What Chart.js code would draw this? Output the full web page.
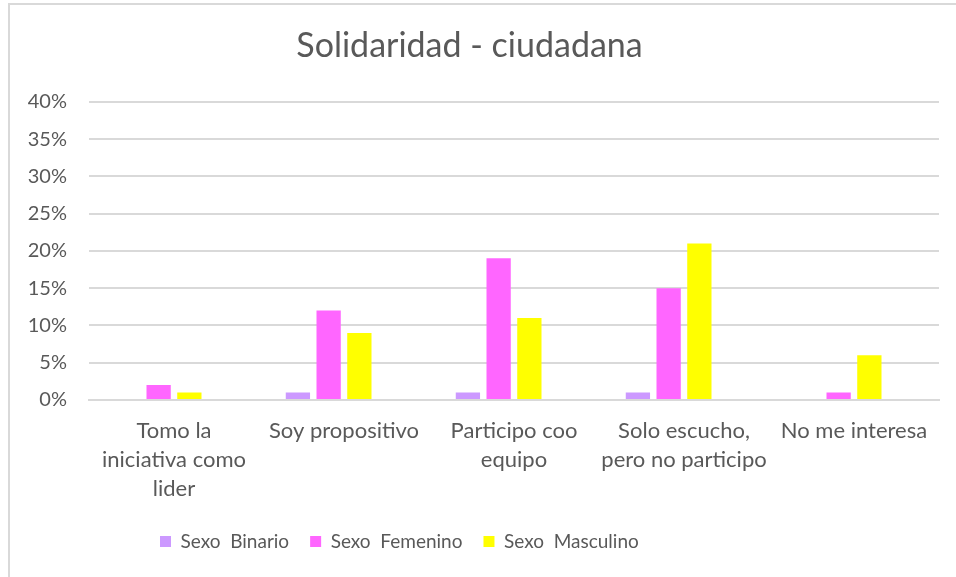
<!DOCTYPE html>
<html>
<head>
<meta charset="utf-8">
<script src="https://cdn.jsdelivr.net/npm/chart.js@4.4.0/dist/chart.umd.min.js"></script>
<style>
  html, body { margin: 0; padding: 0; background: #fff; }
  #frame { position: absolute; left: 8px; top: 3px; width: 1000px; height: 1000px; border: 2px solid #d9d9d9; }
  #wrap { position: absolute; left: 0; top: 0; width: 956px; height: 577px; }
</style>
</head>
<body>
<div id="frame"></div>
<div id="wrap"><canvas id="myChart"></canvas></div>
<script>
// categories and series (percent)
const categories = [
	["Tomo la", "iniciativa como", "lider"],
	["Soy propositivo"],
	["Participo coo", "equipo"],
	["Solo escucho,", "pero no participo"],
	["No me interesa"],
];
const binario = [0, 1, 1, 1, 0];
const femenino = [2, 12, 19, 15, 1];
const masculino = [1, 9, 11, 21, 6];
const yTicks = [0, 5, 10, 15, 20, 25, 30, 35, 40];

const textColor = "#595959";
const gridColor = "#d9d9d9";
const fontFamily = "Lato, 'Open Sans', sans-serif";

// Excel leaves the legend left of centre
const legendShift = {
	id: "legendShift",
	afterLayout(chart) {
		chart.legend.left = 139;
	},
};

const ctx = document.getElementById("myChart");
const myChart = new Chart(ctx, {
	type: "bar",
	data: {
		labels: categories,
		datasets: [
			{ label: "Sexo  Binario", data: binario, backgroundColor: "#cc99ff" },
			{ label: "Sexo  Femenino", data: femenino, backgroundColor: "#ff66ff" },
			{ label: "Sexo  Masculino", data: masculino, backgroundColor: "#ffff00" },
			// empty slot, keeps the groups left of the label like the original
			{ label: "", data: [null, null, null, null, null], backgroundColor: "#ffffff" },
		],
	},
	plugins: [legendShift],
	options: {
		responsive: true,
		maintainAspectRatio: false,
		animation: false,
		categoryPercentage: 0.723,
		barPercentage: 0.79,
		layout: {
			padding: { left: 0, right: 17, top: 0, bottom: 16 },
		},
		plugins: {
			title: {
				display: true,
				text: "Solidaridad - ciudadana",
				color: textColor,
				font: { family: fontFamily, size: 34, weight: "normal" },
				padding: { top: 26, bottom: 35 },
			},
			legend: {
				position: "bottom",
				align: "start",
				labels: {
					color: textColor,
					font: { family: fontFamily, size: 19 },
					boxWidth: 11,
					boxHeight: 11,
					padding: 21,
					filter: (item) => item.text !== "",
				},
			},
			tooltip: { enabled: false },
		},
		scales: {
			x: {
				afterFit(scale) {
					scale.height = 111;
				},
				grid: { display: false },
				border: { display: true, color: gridColor, width: 2 },
				ticks: {
					color: textColor,
					font: { family: fontFamily, size: 22, lineHeight: 1.3 },
					padding: 9,
					maxRotation: 0,
				},
			},
			y: {
				min: 0,
				max: 40,
				afterFit(scale) {
					scale.width = 89;
				},
				afterBuildTicks(scale) {
					scale.ticks = yTicks.map((v) => ({ value: v }));
				},
				grid: { color: gridColor, lineWidth: 2, drawTicks: false },
				border: { display: false },
				ticks: {
					color: textColor,
					font: { family: fontFamily, size: 20 },
					padding: 22,
					callback: (v) => v + "%",
				},
			},
		},
	},
});
</script>
</body>
</html>
